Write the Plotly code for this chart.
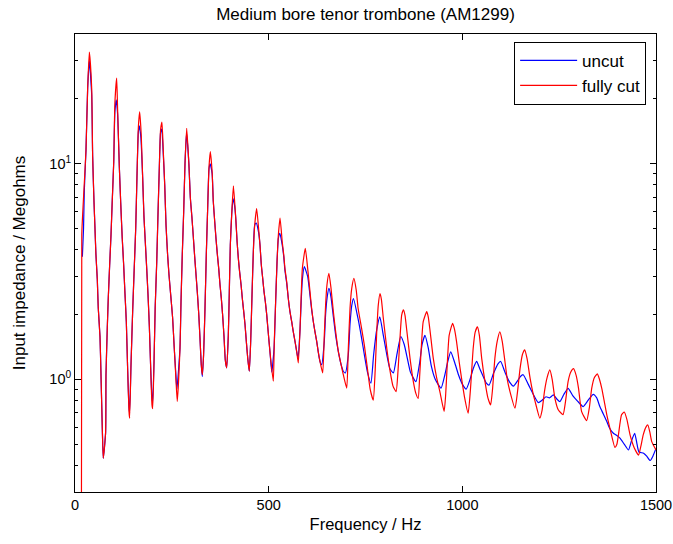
import plotly.graph_objects as go

# ---------------- data ----------------
cut_freq = [
    16.5, 17.5, 22.8, 28.4, 32.7, 37, 43, 45.6, 49, 51.6, 54, 57.6, 60, 64.5, 67, 70.6, 73,
    79, 80, 83.4, 86, 89.5, 93, 96, 100, 103, 107.6, 110, 114.5, 118, 122, 125.6, 129, 132.5,
    136, 139.4, 141, 144.6, 149, 153, 156.7, 160, 163.5, 167, 171, 174.7, 178, 181.6, 185,
    188.5, 192, 195.4, 198.8, 200.5, 204, 207, 211, 214, 217.7, 221, 224.5, 228, 231.6, 235,
    239, 242.7, 247, 252, 256, 260, 264, 271, 273.7, 277, 280.6, 284, 288.4, 294, 297.7, 302,
    305.4, 309, 312.5, 316, 319.4, 322.7, 326, 328.7, 332, 335.6, 339, 342.5, 346, 349.4, 354,
    357, 360.7, 364, 367.5, 371, 374.4, 377.7, 381, 384.7, 388, 391.6, 395.8, 398.4, 401,
    404.5, 409, 415, 418.5, 421.7, 425, 428.8, 432, 435.6, 439, 442.3, 446, 450, 453.6, 457,
    460.4, 464, 469, 474, 477.6, 481, 484.6, 488, 491.4, 495, 498, 505, 512, 514.6, 518,
    521.6, 525, 529.4, 535, 539, 542, 546.5, 550.7, 555, 559.5, 563.6, 568, 572.5, 576.5, 581,
    583.7, 587, 594.6, 600.7, 606.7, 611, 615.3, 619.6, 624, 628, 632.5, 639.5, 643.6, 647,
    650.5, 655.6, 661, 667, 673, 680, 687, 692.7, 701.5, 705.6, 710, 714.5, 720, 726, 731,
    740, 747, 755, 762, 770, 775, 779, 783, 787.5, 791, 796, 805, 813.5, 821, 829, 834, 839,
    843.5, 848, 852, 856, 865, 873.5, 880, 886, 890, 895, 899, 908, 912, 917, 925, 934, 942,
    953, 957, 961, 966, 975, 980, 985, 992, 998, 1006, 1015, 1021, 1028, 1033, 1039, 1044,
    1050, 1058.5, 1066, 1073, 1078, 1084, 1090, 1097, 1103, 1110, 1116, 1123, 1136, 1142,
    1149, 1155, 1161, 1167, 1175, 1182, 1188, 1200, 1206, 1212, 1219, 1226, 1232, 1239, 1248,
    1260, 1266, 1273, 1280, 1287, 1294, 1300, 1308, 1321, 1328, 1334, 1341, 1348.6, 1354,
    1360, 1367, 1373, 1381, 1394, 1399, 1403, 1411, 1418, 1425, 1433, 1444, 1455, 1461, 1467,
    1474, 1479, 1484, 1489, 1500,
]
cut_mohm = [
    0.15, 4.7, 7.4, 11.6, 22.5, 33, 22.5, 10.8, 6.7, 5.0, 3.8, 2.9, 2.15, 1.58, 1.07, 0.58, 0.43,
    0.565, 1.05, 1.74, 2.4, 3.4, 4.7, 6.6, 10.2, 19.2, 25, 17.9, 9.6, 6.6, 4.5, 3.4, 2.5, 1.85,
    1.1, 0.71, 0.66, 1.17, 2.1, 3.3, 5.0, 8.7, 14.7, 17.4, 13.6, 8.6, 5.7, 4.3, 3.3,
    2.47, 1.75, 1.13, 0.76, 0.73, 1.2, 2.15, 3.5, 5.6, 9.6, 14.4, 15.6, 11.4, 8.0, 5.2,
    3.8, 3.05, 2.47, 1.93, 1.42, 1.05, 0.79, 1.39, 2.29, 3.8, 6.0, 10.0, 14.6, 10.0, 7.0, 5.6,
    4.6, 3.7, 3.05, 2.5, 2.02, 1.55, 1.17, 1.05, 1.3, 2.13, 3.8, 6.2, 9.7, 11.4, 9.2,
    6.7, 5.4, 4.5, 3.8, 3.27, 2.74, 2.38, 2.0, 1.58, 1.23, 1.13, 1.6, 2.55, 4.2,
    5.8, 7.9, 5.6, 4.35, 3.64, 3.15, 2.74, 2.37, 2.06, 1.79, 1.5, 1.25, 1.09, 1.5, 2.46,
    3.9, 5.2, 6.2, 5.0, 4.2, 3.4, 2.94, 2.55, 2.29, 1.99, 1.72, 1.25, 0.98, 1.5, 2.29,
    3.5, 4.67, 5.6, 4.35, 3.77, 3.27, 2.84, 2.37, 2.06, 1.85, 1.66, 1.5, 1.34, 1.19, 1.72,
    2.37, 3.27, 4.05, 3.27, 2.55, 2.13, 1.85, 1.66, 1.5, 1.34, 1.21, 1.07, 1.6, 2.21,
    2.74, 3.1, 2.64, 2.06, 1.66, 1.34, 1.17, 1.05, 0.91, 1.39, 2.13, 2.64, 2.94, 2.6, 2.13,
    1.72, 1.44, 1.12, 0.9, 0.80, 1.1, 1.66, 2.21, 2.5, 2.35, 1.92, 1.39, 1.09, 0.93, 0.877, 1.1, 1.55,
    1.99, 2.1, 1.98, 1.72, 1.25, 0.975, 0.86, 0.816, 1.05, 1.5, 1.85, 2.06, 1.95, 1.66, 1.25, 1.01, 0.877,
    0.71, 0.85, 1.17, 1.6, 1.82, 1.7, 1.5, 1.2, 1.01, 0.82, 0.696, 0.9, 1.39, 1.65, 1.75, 1.6,
    1.25, 0.975, 0.82, 0.76, 0.9, 1.25, 1.5, 1.66, 1.5, 1.21, 1.0, 0.877, 0.734, 0.86,
    1.12, 1.3, 1.37, 1.25, 1.01, 0.87, 0.788, 0.66, 0.72, 0.877, 1.02, 1.105, 1.0, 0.816, 0.72,
    0.686, 0.78, 0.975, 1.08, 1.12, 1.04, 0.908, 0.708, 0.643, 0.74, 0.908, 1.02, 1.06, 1.0,
    0.908, 0.78, 0.684, 0.593, 0.483, 0.5, 0.552, 0.684, 0.705, 0.65, 0.552, 0.48, 0.445, 0.49, 0.552,
    0.6, 0.614, 0.57, 0.514, 0.47,
]

uncut_freq = [
    19, 22, 24, 28.4, 32.7, 37, 43, 45.6, 49, 51.6, 54, 57.6, 60, 64.5, 67, 70.6, 73,
    79, 80, 83.4, 86, 89.5, 93, 96, 100, 103, 106.5, 110, 114.5, 118, 122, 125.6, 129, 132.5,
    136, 139.4, 141, 144.6, 149, 153, 156.7, 160, 163.5, 166, 170, 174.7, 178, 181.6, 185,
    188.5, 192, 195.4, 198.8, 200.5, 204, 207, 211, 214, 217.7, 221, 224, 228, 231.6, 235,
    239, 242.7, 247, 252, 256, 260, 263, 271, 273.7, 277, 280.6, 284, 288, 294, 297.7, 302,
    305.4, 309, 312.5, 316, 319.4, 322.7, 326, 328.7, 332, 335.6, 339, 342.5, 346, 349, 354,
    357, 360.7, 364, 367.5, 371, 374.4, 377.7, 381, 384.7, 388, 391.6, 395.8, 398.4, 401,
    404.5, 408, 412, 415, 418.5, 421.7, 425, 428.8, 432, 435.6, 439, 442.3, 446, 450, 453.6,
    457, 460.4, 464, 468, 474, 477.6, 481, 484.6, 488, 491.4, 495, 498, 504, 508, 514, 518,
    521.6, 525, 529, 535, 539, 542, 546.5, 550.7, 555, 559.5, 563.6, 568, 572.5, 576, 581,
    584, 587, 592, 600.7, 606.7, 611, 615.3, 619.6, 624, 628, 632, 637, 643.6, 647, 651,
    655.6, 661, 667, 673, 680, 687, 692.7, 698, 705.6, 710, 714.5, 719, 731, 740, 747, 755,
    764, 771, 779, 787, 796, 805, 813, 822, 831, 841, 850, 858, 866, 880, 890, 896, 903.5,
    912, 920, 930, 945, 955, 962, 970, 980, 990, 1000, 1010, 1020, 1028, 1037, 1045, 1055,
    1062, 1069, 1080, 1092, 1099, 1110, 1122, 1132, 1142, 1150, 1157, 1170, 1182, 1196, 1206,
    1216, 1225, 1235, 1244, 1252, 1262, 1273, 1285, 1298, 1312, 1325, 1338, 1347, 1355, 1364,
    1373, 1381, 1390, 1398, 1407, 1418, 1429, 1437, 1445, 1451, 1456, 1468, 1476, 1485, 1492,
    1500,
]
uncut_mohm = [
    3.7, 5.0, 7.5, 11.6, 22.5, 30, 21, 10.8, 6.7, 5.0, 3.8, 2.9, 2.15, 1.58, 1.07, 0.58, 0.43,
    0.565, 1.05, 1.74, 2.4, 3.4, 4.7, 6.6, 10.2, 17.5, 19.8, 17.0, 9.6, 6.6, 4.5, 3.4, 2.5, 1.85,
    1.1, 0.74, 0.70, 1.17, 2.1, 3.3, 5.0, 8.7, 14.0, 15.0, 13.3, 8.6, 5.7, 4.3, 3.3,
    2.47, 1.75, 1.13, 0.82, 0.78, 1.2, 2.15, 3.5, 5.6, 9.6, 14.0, 14.5, 11.0, 8.0, 5.2,
    3.8, 3.05, 2.47, 1.93, 1.42, 1.08, 0.9, 1.39, 2.29, 3.8, 6.0, 10.0, 13.9, 10.0, 7.0, 5.6,
    4.6, 3.7, 3.05, 2.5, 2.02, 1.55, 1.17, 1.03, 1.3, 2.13, 3.8, 6.2, 9.5, 10.0, 9.0,
    6.7, 5.4, 4.5, 3.8, 3.27, 2.74, 2.38, 2.0, 1.58, 1.23, 1.13, 1.6, 2.55, 4.2,
    5.8, 6.9, 6.4, 5.6, 4.35, 3.64, 3.15, 2.74, 2.37, 2.06, 1.79, 1.5, 1.25, 1.09, 1.5,
    2.46, 3.9, 5.2, 5.3, 4.8, 4.2, 3.4, 2.94, 2.55, 2.29, 1.99, 1.72, 1.3, 1.08, 1.4, 2.29,
    3.5, 4.5, 4.76, 4.2, 3.7, 3.2, 2.8, 2.37, 2.06, 1.85, 1.66, 1.5, 1.34, 1.25, 1.7,
    2.3, 2.9, 3.33, 3.0, 2.45, 2.1, 1.85, 1.66, 1.5, 1.34, 1.22, 1.17, 1.5, 2.0, 2.4,
    2.64, 2.4, 1.95, 1.6, 1.34, 1.17, 1.09, 1.07, 1.3, 1.8, 2.2, 2.37, 1.9, 1.55, 1.3, 1.08,
    0.96, 1.3, 1.7, 1.95, 1.6, 1.3, 1.12, 1.07, 1.3, 1.58, 1.45, 1.25, 1.08, 0.975, 1.2, 1.45, 1.6,
    1.4, 1.15, 1.0, 0.91, 1.05, 1.2, 1.34, 1.2, 1.05, 0.95, 0.9, 1.0, 1.12, 1.21, 1.12, 1.02,
    0.96, 0.94, 1.06, 1.18, 1.21, 1.08, 0.97, 0.93, 0.98, 1.03, 1.05, 0.95, 0.86, 0.78, 0.8,
    0.83, 0.82, 0.846, 0.81, 0.788, 0.85, 0.908, 0.84, 0.79, 0.747, 0.8, 0.852, 0.82, 0.747, 0.69,
    0.637, 0.59, 0.562, 0.55, 0.533, 0.5, 0.47, 0.52, 0.562, 0.5, 0.46, 0.454, 0.44, 0.42, 0.44,
    0.478,
]

x_tick_vals = [0, 500, 1000, 1500]
y_tick_vals = [1, 10]
y_tick_text = ["10<sup>0</sup>", "10<sup>1</sup>"]
y_minor_vals = [0.3, 0.4, 0.5, 0.6, 0.7, 0.8, 0.9, 2, 3, 4, 5, 6, 7, 8, 9, 20, 30, 40]

# ---------------- figure ----------------
FONT = "Liberation Sans, Arial, sans-serif"

fig = go.Figure()
fig.add_trace(go.Scatter(
    x=uncut_freq, y=uncut_mohm, mode="lines", name="uncut",
    line=dict(color="rgb(0,0,255)", width=1.2, shape="spline", smoothing=0.5),
))
fig.add_trace(go.Scatter(
    x=cut_freq, y=cut_mohm, mode="lines", name="fully cut",
    line=dict(color="rgb(255,0,0)", width=1.2, shape="spline", smoothing=0.5),
))

axis_common = dict(
    showline=True, linecolor="black", linewidth=1, mirror="ticks",
    ticks="inside", tickcolor="black", showgrid=False, zeroline=False,
    automargin=False,
    tickfont=dict(family=FONT, size=14.5, color="black"),
)

fig.update_layout(
    width=673, height=544,
    margin=dict(l=75, r=17, t=34, b=52, autoexpand=False),
    paper_bgcolor="white", plot_bgcolor="white",
    font=dict(family=FONT, size=14, color="black"),
    title=dict(
        text="Medium bore tenor trombone (AM1299)",
        x=0.5, xref="paper", xanchor="center",
        y=1 - 14 / 544, yref="container", yanchor="middle",
        font=dict(family=FONT, size=17, color="black"),
        automargin=False,
    ),
    xaxis=dict(
        range=[0, 1500], tickvals=x_tick_vals, ticklen=6,
        title=dict(text="Frequency / Hz", standoff=6, font=dict(family=FONT, size=16.5)),
        **axis_common,
    ),
    yaxis=dict(
        type="log", range=[-0.5229, 1.6021],
        tickvals=y_tick_vals, ticktext=y_tick_text, ticklen=6,
        minor=dict(tickvals=y_minor_vals, ticks="inside", ticklen=3, tickcolor="black", showgrid=False),
        title=dict(text="Input impedance / Megohms", standoff=19, font=dict(family=FONT, size=17)),
        **axis_common,
    ),
    legend=dict(
        x=0.983, y=0.983, xanchor="right", yanchor="top",
        bgcolor="white", bordercolor="black", borderwidth=1,
        font=dict(family=FONT, size=17, color="black"),
        itemwidth=57, tracegroupgap=0,
    ),
    showlegend=True,
)

fig.write_html(
    "out.html",
    config={"displayModeBar": False},
    post_script="document.body.style.margin='0';document.body.style.padding='0';",
)
